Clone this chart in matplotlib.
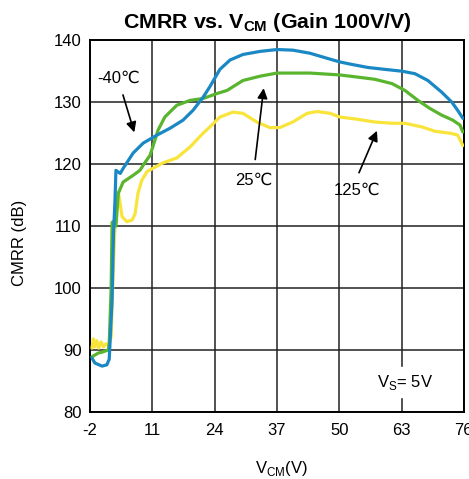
import numpy as np
from matplotlib import pyplot as plt

plt.rcParams['font.family'] = ['Liberation Sans', 'DejaVu Sans']
plt.rcParams['mathtext.fontset'] = 'custom'
plt.rcParams['mathtext.rm'] = 'Liberation Sans'
plt.rcParams['mathtext.bf'] = 'Liberation Sans:bold'
plt.rcParams['axes.unicode_minus'] = False

# -40C curve
vcm_m40 = [-1.6, -1.0, 0.5, 1.5, 2.0, 2.6, 2.9, 3.2, 3.4, 4.3, 4.9, 7.0, 9.1, 12.0, 14.7, 17.4,
           19.5, 21.6, 23.0, 25.1, 27.2, 29.9, 33.5, 37.0, 40.3, 43.9, 47.4, 50.1, 52.6,
           56.0, 59.5, 63.1, 65.8, 68.5, 71.4, 73.5, 74.7, 75.8]
cmrr_m40 = [88.7, 87.9, 87.4, 87.6, 88.5, 98.0, 108.9, 114.0, 119.0, 118.5, 119.3, 121.8, 123.4,
            124.7, 125.8, 127.1, 128.7, 130.8, 132.5, 135.3, 136.8, 137.7, 138.2, 138.5, 138.4,
            137.9, 137.1, 136.5, 136.1, 135.6, 135.3, 135.0, 134.6, 133.5, 131.6, 130.0, 128.7,
            127.4]

# 25C curve
vcm_25 = [-1.6, -0.3, 0.7, 1.8, 2.0, 2.4, 2.6, 3.0, 3.4, 3.9, 4.9, 7.0, 8.4, 9.5, 10.5, 11.1,
          12.2, 13.6, 16.1, 18.9, 21.6, 24.5, 26.6, 29.9, 33.5, 37.0, 40.3, 43.9, 50.1, 53.3,
          57.4, 61.0, 63.7, 66.4, 68.9, 71.4, 73.7, 75.2, 75.8]
cmrr_25 = [88.9, 89.5, 89.7, 90.0, 91.0, 100.0, 110.6, 110.8, 110.0, 115.3, 117.1, 118.2, 119.0,
           120.3, 121.4, 122.8, 125.5, 127.6, 129.5, 130.3, 130.6, 131.4, 131.9, 133.5, 134.2,
           134.7, 134.7, 134.7, 134.4, 134.1, 133.7, 133.0, 131.9, 130.3, 129.0, 127.9, 127.1,
           126.3, 125.2]

# 125C curve
vcm_125 = [-1.6, -1.3, -1.0, -0.6, -0.2, 0.3, 0.8, 1.3, 1.8, 2.4, 2.8, 3.3, 3.9, 4.7, 5.7,
           6.8, 7.4, 8.0, 8.8, 9.9, 13.2, 16.1, 18.9, 21.6, 23.0, 25.1, 27.8, 29.9, 32.8, 35.5,
           37.6, 40.3, 43.3, 45.4, 48.1, 50.1, 53.3, 57.4, 61.0, 63.7, 67.3, 70.0, 73.1, 74.7,
           75.8]
cmrr_125 = [90.3, 91.8, 90.5, 91.5, 90.3, 91.3, 90.5, 91.0, 90.8, 92.0, 102.0, 112.0, 115.5,
            111.5, 110.7, 111.0, 112.0, 115.3, 117.4, 118.8, 120.2, 121.0, 122.8, 125.0, 126.0,
            127.6, 128.4, 128.2, 126.8, 125.9, 125.9, 126.8, 128.2, 128.5, 128.2, 127.6, 127.3,
            126.8, 126.6, 126.6, 126.0, 125.3, 125.0, 124.7, 123.0]

xticks = [-2, 11, 24, 37, 50, 63, 76]
yticks = [80, 90, 100, 110, 120, 130, 140]

fig = plt.figure(figsize=(4.69, 4.79), dpi=100)
ax = fig.add_axes([0.192, 0.140, 0.797, 0.776])

ax.plot(vcm_125, cmrr_125, color='#f8e43a', linewidth=2.3, zorder=3,
        solid_joinstyle='round', solid_capstyle='round')
ax.plot(vcm_25, cmrr_25, color='#5ab52e', linewidth=2.3, zorder=4,
        solid_joinstyle='round', solid_capstyle='round')
ax.plot(vcm_m40, cmrr_m40, color='#1a88c4', linewidth=2.3, zorder=5,
        solid_joinstyle='round', solid_capstyle='round')

ax.set_xlim(-2, 76)
ax.set_ylim(80, 140)
ax.set_xticks(xticks)
ax.set_yticks(yticks)
ax.tick_params(length=0, labelsize=12)
ax.tick_params(axis='x', pad=8)
ax.tick_params(axis='y', pad=6)
ax.grid(True, color='#222222', linewidth=1.1)
for s in ax.spines.values():
    s.set_linewidth(1.4)

ax.set_title(r'CMRR vs. V$_{\mathbf{CM}}$ (Gain 100V/V)', fontsize=15.4, fontweight='bold',
             pad=9, x=0.474)
ax.set_xlabel(r'V$_{\mathrm{CM}}$(V)', fontsize=12)
ax.xaxis.set_label_coords(0.511, -0.127)
ax.set_ylabel('CMRR (dB)', fontsize=12)
ax.yaxis.set_label_coords(-0.168, 0.455)

arrowprops = dict(arrowstyle='-|>', color='black', lw=1.2, mutation_scale=15)
ax.annotate('', xy=(7.4, 124.7), xytext=(4.7, 131.6), arrowprops=arrowprops, zorder=6)
ax.annotate('', xy=(34.3, 132.7), xytext=(32.4, 120.3), arrowprops=arrowprops, zorder=6)
ax.annotate('', xy=(58.1, 125.8), xytext=(53.9, 118.2), arrowprops=arrowprops, zorder=6)
ax.text(4.05, 133.8, '-40\u2103', fontsize=12, ha='center', va='center', zorder=6)
ax.text(32.2, 117.4, '25\u2103', fontsize=12, ha='center', va='center', zorder=6)
ax.text(53.7, 115.8, '125\u2103', fontsize=12, ha='center', va='center', zorder=6)
ax.text(63.7, 84.8, r'V$_{\mathrm{S}}$= 5V', fontsize=12, ha='center', va='center',
        backgroundcolor='white', zorder=6)

fig.savefig('out.png', dpi=100)
